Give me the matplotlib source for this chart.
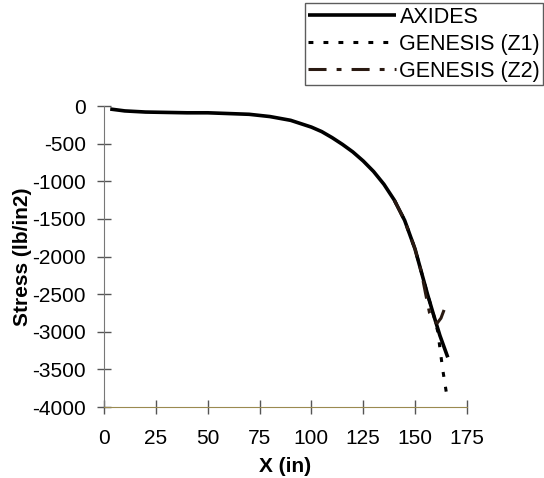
import matplotlib
matplotlib.use("Agg")
import matplotlib.pyplot as plt

plt.rcParams['font.family'] = ['Liberation Sans', 'DejaVu Sans']
plt.rcParams['axes.unicode_minus'] = False

# AXIDES result
x_axides = [3, 10, 20, 30, 40, 50, 60, 70, 80, 90, 100, 105, 110, 115, 120,
            125, 130, 135, 140, 145, 150, 153, 156, 159, 162, 165.8]
y_axides = [-40, -65, -80, -85, -90, -90, -100, -110, -140, -190, -280, -340,
            -420, -510, -610, -730, -870, -1040, -1250, -1520, -1900, -2200,
            -2500, -2780, -3050, -3340]

# GENESIS zone 1
x_z1 = [140, 145, 150, 153, 156, 159, 161, 162.4, 163.4, 164.5, 165.5]
y_z1 = [-1250, -1520, -1900, -2200, -2500, -2780, -3000, -3300, -3510, -3700, -3880]

# GENESIS zone 2
x_z2 = [140, 145, 150, 153, 155, 157, 159, 160.7, 162.5, 164]
y_z2 = [-1250, -1520, -1900, -2200, -2480, -2750, -2860, -2885, -2820, -2710]

xticks = [0, 25, 50, 75, 100, 125, 150, 175]
yticks = [0, -500, -1000, -1500, -2000, -2500, -3000, -3500, -4000]

fig = plt.figure(figsize=(5.44, 4.78), dpi=100)
ax = fig.add_axes([0.1912, 0.1485, 0.667, 0.6297])

l1, = ax.plot(x_axides, y_axides, color='black', lw=2.6, solid_capstyle='butt')
l2, = ax.plot(x_z1, y_z1, color='black', lw=2.2, dashes=(1.6, 3.3))
l3, = ax.plot(x_z2, y_z2, color='#2a1a12', lw=2.2, dashes=(5.9, 3.3, 1.6, 3.3))

ax.set_xlim(0, 175)
ax.set_ylim(-4000, 0)
ax.set_xticks(xticks)
ax.set_yticks(yticks)
ax.spines['top'].set_visible(False)
ax.spines['right'].set_visible(False)
ax.spines['left'].set_color('#777777')
ax.spines['bottom'].set_color('#9a8a50')
ax.tick_params(direction='inout', length=10, width=1, colors='#555555',
               labelcolor='black', labelsize=15)
ax.tick_params(axis='y', pad=8)
ax.tick_params(axis='x', pad=11)
ax.set_xlabel('X (in)', fontsize=15, fontweight='bold', labelpad=6)
ax.set_ylabel('Stress (lb/in2)', fontsize=15, fontweight='bold', labelpad=0)

leg = fig.legend([l1, l2, l3], ['AXIDES', 'GENESIS (Z1)', 'GENESIS (Z2)'],
                 loc='upper right', bbox_to_anchor=(0.999, 0.993),
                 fontsize=15.5, frameon=True, fancybox=False, handlelength=4.1,
                 handletextpad=0.15, labelspacing=0.28, borderpad=0.15,
                 borderaxespad=0)
leg.get_frame().set_edgecolor('#333333')
leg.get_frame().set_linewidth(1.0)

fig.savefig('out.png', dpi=100)
